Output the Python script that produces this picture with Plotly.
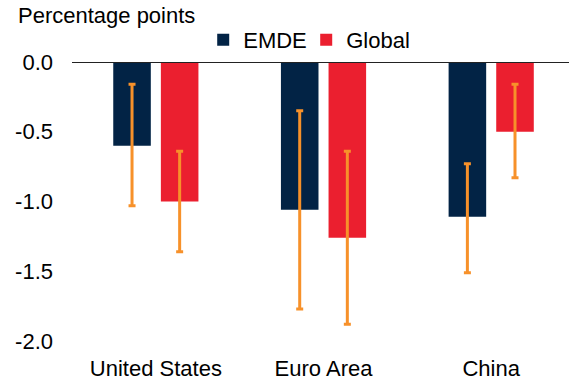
import plotly.graph_objects as go

# Categories and series values (percentage points)
categories = ["United States", "Euro Area", "China"]
emde = [-0.60, -1.06, -1.11]
emde_high = [-0.16, -0.35, -0.73]
emde_low = [-1.03, -1.77, -1.51]
global_vals = [-1.00, -1.26, -0.50]
global_high = [-0.64, -0.64, -0.16]
global_low = [-1.36, -1.88, -0.83]
y_ticks = [0.0, -0.5, -1.0, -1.5, -2.0]
y_tick_labels = ["0.0", "-0.5", "-1.0", "-1.5", "-2.0"]

NAVY = "#022345"
RED = "#EB1F2F"
ORANGE = "#F7912A"
FONT = "Liberation Sans, Arial, sans-serif"

BAR_W = 0.224   # bar width in category units
PAIR_GAP = 0.06  # space between the two bars of a pair


def err(values, high, low):
    return dict(
        type="data",
        symmetric=False,
        array=[h - v for v, h in zip(values, high)],
        arrayminus=[v - l for v, l in zip(values, low)],
        color=ORANGE,
        thickness=3,
        width=3.5,
    )


fig = go.Figure()
fig.add_trace(go.Bar(x=categories, y=emde, name="EMDE", marker_color=NAVY,
                     marker_line_width=0, width=BAR_W,
                     offset=-(BAR_W + PAIR_GAP / 2),
                     error_y=err(emde, emde_high, emde_low)))
fig.add_trace(go.Bar(x=categories, y=global_vals, name="Global", marker_color=RED,
                     marker_line_width=0, width=BAR_W, offset=PAIR_GAP / 2,
                     error_y=err(global_vals, global_high, global_low)))

fig.update_layout(
    width=569, height=382,
    margin=dict(l=72, r=0, t=62, b=41),
    paper_bgcolor="white", plot_bgcolor="white",
    font=dict(family=FONT, size=22, color="#000000"),
    barmode="group",
    showlegend=True,
    legend=dict(orientation="h", x=0.264, y=1.079, xanchor="left", yanchor="middle",
                font=dict(size=22), itemwidth=30, traceorder="normal",
                entrywidth=58, bgcolor="rgba(0,0,0,0)"),
    xaxis=dict(range=[-0.5, 2.464], showgrid=False, showline=False, ticks="",
               tickfont=dict(size=22), ticklabelstandoff=12, fixedrange=True),
    yaxis=dict(range=[-2.0, 0.0], tickvals=y_ticks, ticktext=y_tick_labels,
               showgrid=False, zeroline=False, showline=False, ticks="",
               tickfont=dict(size=22), ticklabelstandoff=18, fixedrange=True),
    shapes=[dict(type="line", xref="paper", yref="y", x0=0, x1=1, y0=0, y1=0,
                 line=dict(color="#222222", width=2), layer="above")],
    annotations=[dict(text="Percentage points", xref="paper", yref="paper",
                      x=-0.113, y=1.165, xanchor="left", yanchor="middle",
                      showarrow=False, font=dict(size=22))],
)

fig.write_html("out.html")
